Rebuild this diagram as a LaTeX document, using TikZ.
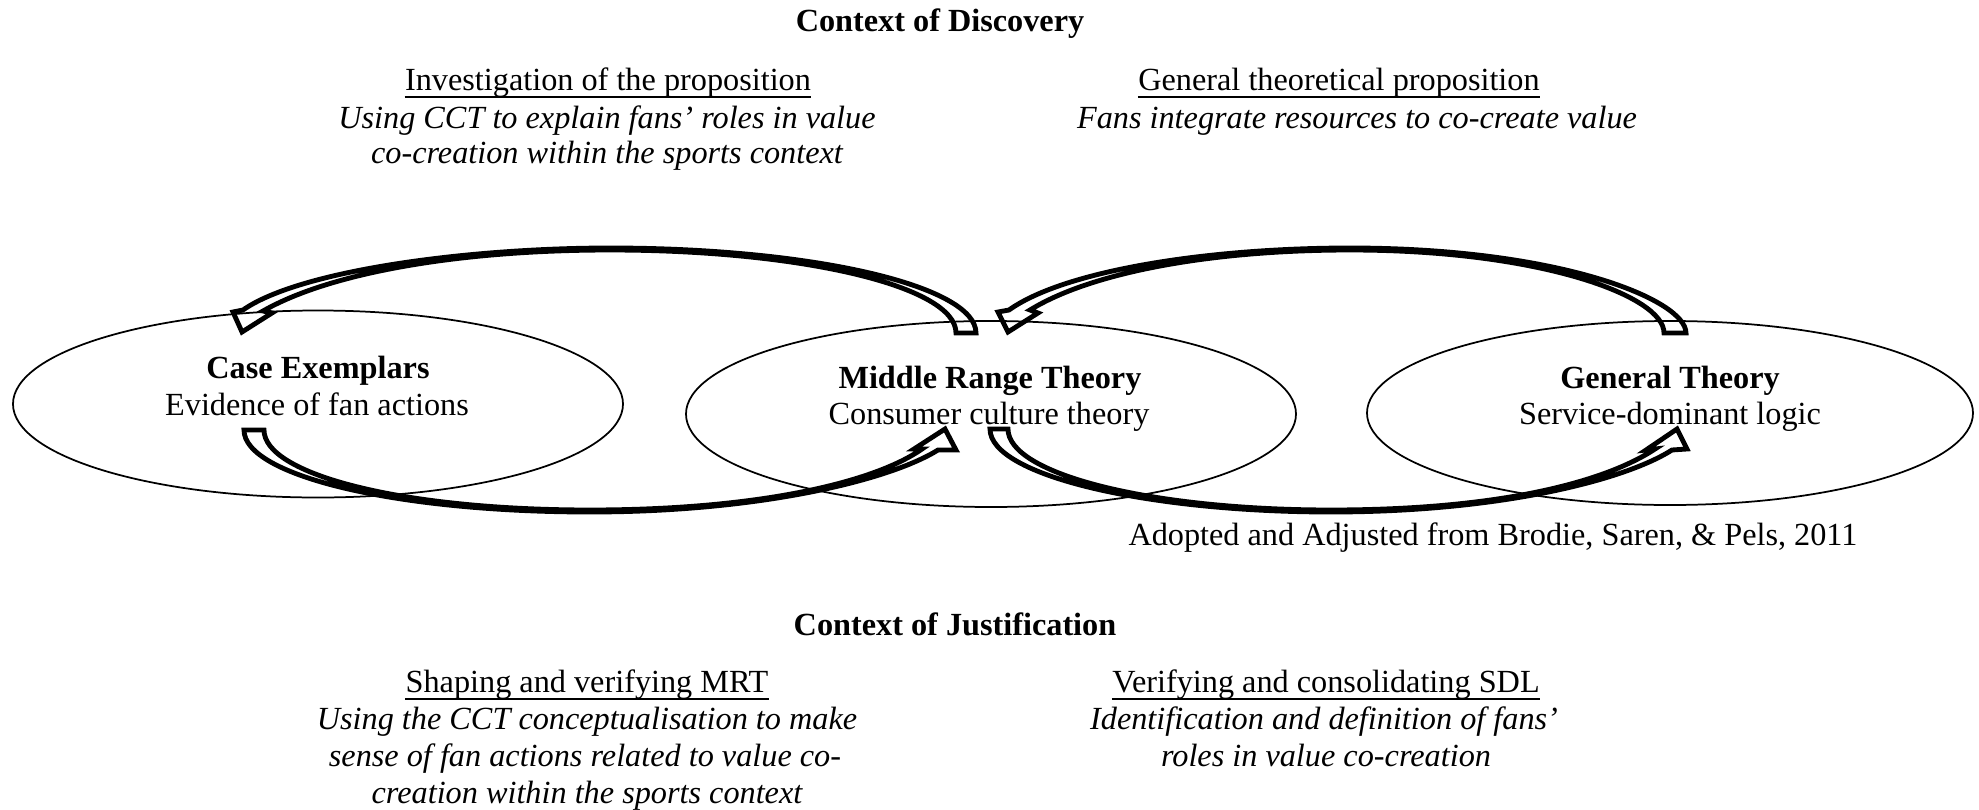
\documentclass[tikz,border=0pt]{standalone}
\usepackage{fontspec}
\setmainfont{Liberation Serif}
\usetikzlibrary{shapes.geometric}
\begin{document}
\begin{tikzpicture}[x=0.372pt,y=-0.372pt,
  txt/.style={inner sep=0pt, anchor=base, font=\fontsize{12}{14}\selectfont},
  hd/.style={txt, font=\fontsize{12}{14}\selectfont\bfseries},
  it/.style={txt, font=\fontsize{12}{14}\selectfont\itshape},
  ul/.style={line width=0.65pt},
  oval/.style={draw, ellipse, line width=0.65pt, inner sep=0pt},
  barrow/.style={draw, line width=1.8pt, line join=miter}]
\path[use as bounding box] (0,0) rectangle (1979,810);

% top texts
\node[hd] (disc) at (940,31) {Context of Discovery};
\node[txt] (invh) at (608,90) {Investigation of the proposition};
\draw[ul] ([yshift=-2.7pt]invh.base west) -- ([yshift=-2.7pt]invh.base east);
\node[it] (inv1) at (607,128) {Using CCT to explain fans’ roles in value};
\node[it] (inv2) at (607,163) {co-creation within the sports context};
\node[txt] (genh) at (1339,90) {General theoretical proposition};
\draw[ul] ([yshift=-2.7pt]genh.base west) -- ([yshift=-2.7pt]genh.base east);
\node[it] (gen1) at (1357,128) {Fans integrate resources to co-create value};

% ellipses
\node[oval, minimum width=610*0.372pt, minimum height=187*0.372pt] (ce) at (318,404) {};
\node[oval, minimum width=610*0.372pt, minimum height=186*0.372pt] (mrt) at (991,414) {};
\node[oval, minimum width=606*0.372pt, minimum height=184*0.372pt] (gt) at (1670,413) {};

\node[hd] (ceh) at (318,378) {Case Exemplars};
\node[txt] (cet) at (317,415) {Evidence of fan actions};
\node[hd] (mrth) at (990,388) {Middle Range Theory};
\node[txt] (mrtt) at (989,424) {Consumer culture theory};
\node[hd] (gth) at (1670,388) {General Theory};
\node[txt] (gtt) at (1670,424) {Service-dominant logic};

% curved block arrows
% MRT -> Case Exemplars (top)
\draw[barrow] (956,333) -- (976,333)
  .. controls (976,286) and (813,248) .. (610,248)
  .. controls (470,248) and (300,270) .. (243,310)
  -- (233,312) -- (242,332) -- (272,313) -- (263,311)
  .. controls (335,270) and (470,250) .. (610,250)
  .. controls (800,250) and (956,286) .. (956,333) -- cycle;
% General Theory -> MRT (top)
\draw[barrow] (1664,333) -- (1686,333)
  .. controls (1686,300) and (1560,248) .. (1350,248)
  .. controls (1210,248) and (1065,270) .. (1009,310)
  -- (998,312) -- (1008,332) -- (1038,313) -- (1030,310)
  .. controls (1095,270) and (1220,250) .. (1350,250)
  .. controls (1540,250) and (1664,296) .. (1664,333) -- cycle;
% Case Exemplars -> MRT (bottom)
\draw[barrow] (264,430) -- (244,430)
  .. controls (244,476) and (398,512) .. (590,512)
  .. controls (760,512) and (890,480) .. (938,450)
  -- (956,450) -- (945,429) -- (914,449) -- (922,449)
  .. controls (875,482) and (760,510) .. (590,510)
  .. controls (400,510) and (264,474) .. (264,430) -- cycle;
% MRT -> General Theory (bottom)
\draw[barrow] (1008,429) -- (990,429)
  .. controls (990,476) and (1150,512) .. (1331,512)
  .. controls (1500,512) and (1625,480) .. (1672,450)
  -- (1687,449) -- (1677,429) -- (1646,450) -- (1655,449)
  .. controls (1605,482) and (1500,510) .. (1331,510)
  .. controls (1150,510) and (1008,474) .. (1008,429) -- cycle;

\node[txt] (src) at (1493,545) {Adopted and Adjusted from Brodie, Saren, \& Pels, 2011};

% bottom texts
\node[hd] (just) at (955,635) {Context of Justification};
\node[txt] (shh) at (587,692) {Shaping and verifying MRT};
\draw[ul] ([yshift=-2.7pt]shh.base west) -- ([yshift=-2.7pt]shh.base east);
\node[it] (sh1) at (587,729) {Using the CCT conceptualisation to make};
\node[it] (sh2) at (585,766) {sense of fan actions related to value co-};
\node[it] (sh3) at (587,803) {creation within the sports context};
\node[txt] (veh) at (1326,692) {Verifying and consolidating SDL};
\draw[ul] ([yshift=-2.7pt]veh.base west) -- ([yshift=-2.7pt]veh.base east);
\node[it] (ve1) at (1324,729) {Identification and definition of fans’};
\node[it] (ve2) at (1326,766) {roles in value co-creation};
\end{tikzpicture}
\end{document}
